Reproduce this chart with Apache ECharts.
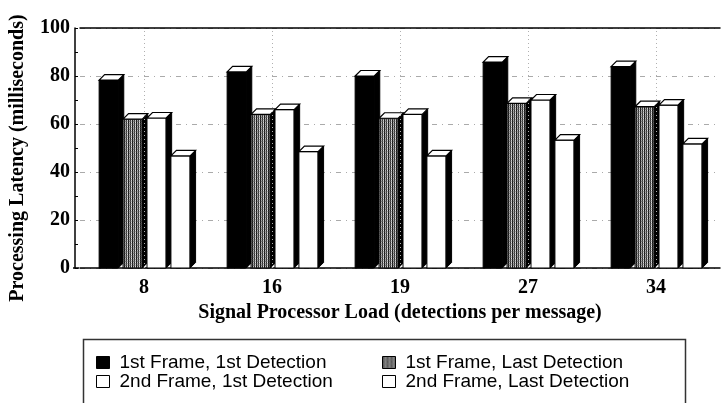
<!DOCTYPE html>
<html>
<head>
<meta charset="utf-8">
<script src="https://cdn.jsdelivr.net/npm/echarts@6/dist/echarts.min.js"></script>
<style>
  html, body { margin: 0; padding: 0; background: #fff; }
  #chart { width: 723px; height: 403px; }
</style>
</head>
<body>
<div id="chart"></div>
<script>
// Signal processor load (detections per message)
const loads = ['8', '16', '19', '27', '34'];

// Processing latency in milliseconds for each series
const firstFrameFirst = [78.3, 81.7, 80.0, 85.8, 83.9];
const firstFrameLast = [62.0, 64.0, 62.4, 68.6, 67.2];
const secondFrameFirst = [62.5, 66.0, 64.0, 70.0, 67.9];
const secondFrameLast = [46.7, 48.5, 46.7, 53.3, 51.7];

const seriesNames = [
  '1st Frame, 1st Detection',
  '1st Frame, Last Detection',
  '2nd Frame, 1st Detection',
  '2nd Frame, Last Detection'
];
const seriesValues = [firstFrameFirst, firstFrameLast, secondFrameFirst, secondFrameLast];

const yTicks = [0, 20, 40, 60, 80, 100];

// Stippled grey fill used for the "1st Frame, Last Detection" bars
function makeStipple() {
  const c = document.createElement('canvas');
  c.width = 4; c.height = 4;
  const ctx = c.getContext('2d');
  const cols = [
    ['#1a1a1a', '#2a2a2a', '#111', '#333'],
    ['#a8a8a8', '#7a7a7a', '#b8b8b8', '#909090'],
    ['#3a3a3a', '#555', '#2c2c2c', '#4a4a4a'],
    ['#d0d0d0', '#b0b0b0', '#dcdcdc', '#a0a0a0']
  ];
  for (let x = 0; x < 4; x++) {
    for (let y = 0; y < 4; y++) {
      ctx.fillStyle = cols[x][y];
      ctx.fillRect(x, y, 1, 1);
    }
  }
  return c;
}
const stipple = { image: makeStipple(), repeat: 'repeat' };
const fills = ['#000000', stipple, '#ffffff', '#ffffff'];

const SERIF = '"Liberation Serif", "Times New Roman", serif';
const SANS = '"Liberation Sans", Arial, sans-serif';

// Each bar drawn as a front face plus a top and a right-hand side face
function makeRenderer(sIdx) {
  return function (params, api) {
    const cat = api.value(0);
    const val = api.value(1);
    const base = api.coord([cat, 0]);
    const top = api.coord([cat, val]);
    const band = api.size([1, 0])[0];
    const slot = band * 0.187;
    const w = slot * 0.8;
    const d = 5.5;
    const x0 = base[0] + (sIdx - 2) * slot + 3;
    const ty = top[1];
    const by = base[1];
    const fill = fills[sIdx];
    return {
      type: 'group',
      children: [
        {
          type: 'rect',
          shape: { x: x0, y: ty, width: w, height: by - ty },
          style: { fill: fill, stroke: '#000', lineWidth: 1 }
        },
        {
          type: 'polygon',
          shape: { points: [[x0 + w, ty], [x0 + w + d, ty - d], [x0 + w + d, by - d], [x0 + w, by]] },
          style: { fill: '#000', stroke: '#000', lineWidth: 1 }
        },
        {
          type: 'polygon',
          shape: { points: [[x0, ty], [x0 + w, ty], [x0 + w + d, ty - d], [x0 + d, ty - d]] },
          style: { fill: '#fff', stroke: '#000', lineWidth: 1.2 }
        }
      ]
    };
  };
}

const barSeries = seriesNames.map((name, s) => ({
  name: name,
  type: 'custom',
  z: 3,
  renderItem: makeRenderer(s),
  itemStyle: { color: fills[s], borderColor: '#000', borderWidth: 1 },
  encode: { x: 0, y: 1 },
  data: seriesValues[s].map((v, i) => [i, v])
}));

// Faint dotted guides through each category centre
const guideSeries = {
  type: 'line',
  data: [],
  z: 1,
  silent: true,
  markLine: {
    symbol: 'none',
    silent: true,
    label: { show: false },
    lineStyle: { color: '#b0b0b0', type: [1, 3], width: 1 },
    data: loads.map(c => ({ xAxis: c }))
  }
};

const legendText = { fontFamily: SANS, fontSize: 19, color: '#000', lineHeight: 19, padding: [0, 0, 0, 5] };
function legendItem(s) {
  return { name: seriesNames[s], icon: 'rect', itemStyle: { color: fills[s], borderColor: '#000', borderWidth: 1 } };
}

const chart = echarts.init(document.getElementById('chart'), null, { renderer: 'canvas' });
chart.setOption({
  animation: false,
  backgroundColor: '#fff',
  grid: { left: 78, right: 3, top: 28, bottom: 135 },
  xAxis: [
    {
      type: 'category',
      data: loads,
      position: 'bottom',
      axisLine: { lineStyle: { color: '#000', width: 1.5 } },
      axisTick: { show: false },
      axisLabel: { fontFamily: SERIF, fontWeight: 'bold', fontSize: 20, color: '#000', margin: 10 },
      name: 'Signal Processor Load (detections per message)',
      nameLocation: 'middle',
      nameGap: 33,
      nameTextStyle: { fontFamily: SERIF, fontWeight: 'bold', fontSize: 20, color: '#000' }
    },
    {
      type: 'category',
      data: loads,
      position: 'top',
      axisLine: { lineStyle: { color: '#000', width: 1.5 } },
      axisTick: { show: false },
      axisLabel: { show: false }
    }
  ],
  yAxis: {
    type: 'value',
    min: yTicks[0],
    max: yTicks[yTicks.length - 1],
    interval: 20,
    offset: 5,
    axisLine: { show: true, lineStyle: { color: '#000', width: 1.5 } },
    axisTick: { show: true, inside: true, length: 3, lineStyle: { color: '#000' } },
    minorTick: { show: true, splitNumber: 2, length: 3, lineStyle: { color: '#000' } },
    axisLabel: { fontFamily: SERIF, fontWeight: 'bold', fontSize: 20, color: '#000', margin: 5 },
    splitLine: { show: true, lineStyle: { color: '#aaa', type: [5, 5, 1, 5], width: 1 } },
    name: 'Processing Latency (milliseconds)',
    nameLocation: 'middle',
    nameRotate: 90,
    nameGap: 47,
    nameTextStyle: { fontFamily: SERIF, fontWeight: 'bold', fontSize: 20, color: '#000', padding: [0, 20, 0, 0] }
  },
  legend: [
    {
      left: 96, top: 353, orient: 'vertical', padding: 0,
      itemWidth: 13, itemHeight: 12, itemGap: 0,
      textStyle: legendText,
      selectedMode: false,
      data: [legendItem(0), legendItem(2)]
    },
    {
      left: 382, top: 353, orient: 'vertical', padding: 0,
      itemWidth: 13, itemHeight: 12, itemGap: 0,
      textStyle: legendText,
      selectedMode: false,
      data: [legendItem(1), legendItem(3)]
    }
  ],
  graphic: [
    {
      type: 'rect',
      left: 81, top: 337,
      shape: { width: 602, height: 90 },
      style: { fill: 'none', stroke: '#333', lineWidth: 1.5 },
      silent: true
    },
    {
      // continue the base line to meet the value axis
      type: 'line',
      shape: { x1: 73, y1: 268, x2: 79, y2: 268 },
      style: { stroke: '#000', lineWidth: 1.5 },
      silent: true
    }
  ],
  series: [guideSeries].concat(barSeries)
});
</script>
</body>
</html>
